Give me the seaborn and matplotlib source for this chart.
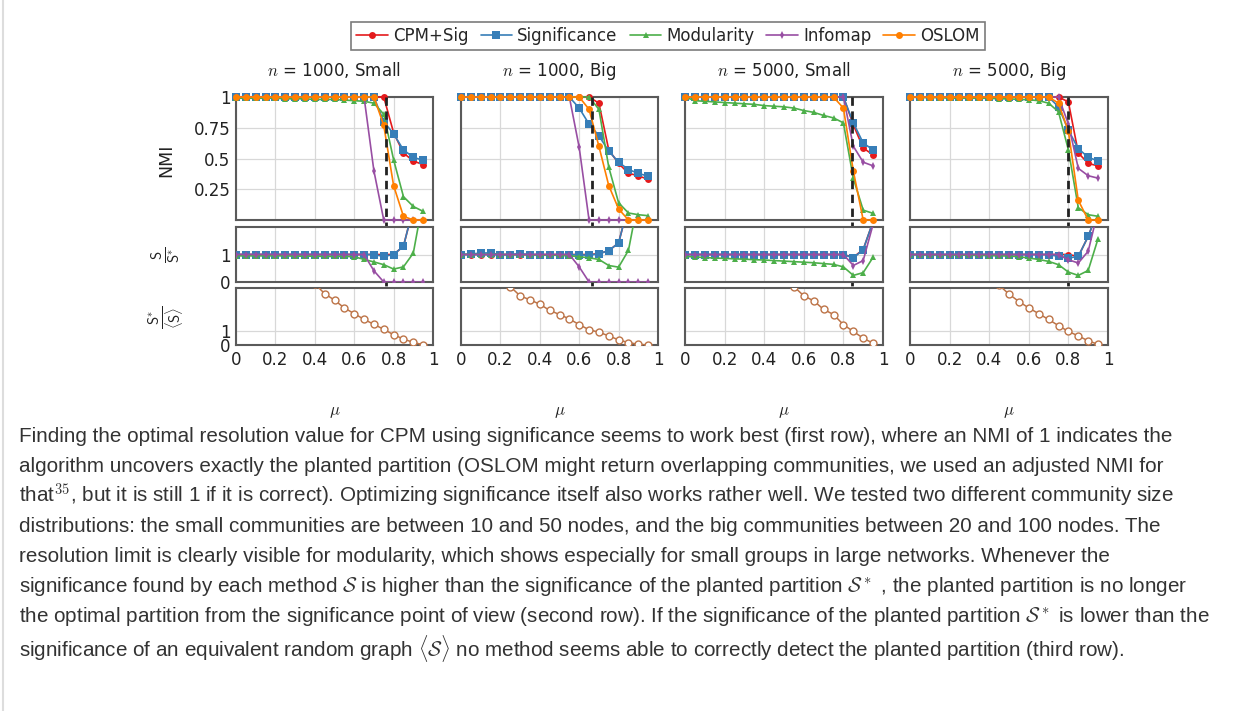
import numpy as np
import pandas as pd
import matplotlib
matplotlib.use("Agg")
import matplotlib.pyplot as plt
import matplotlib.transforms as mtransforms
import seaborn as sns

# ---------------- data ----------------
mu = [0.0, 0.05, 0.1, 0.15, 0.2, 0.25, 0.3, 0.35, 0.4, 0.45,
      0.5, 0.55, 0.6, 0.65, 0.7, 0.75, 0.8, 0.85, 0.9, 0.95]

titles = ["n = 1000, Small", "n = 1000, Big", "n = 5000, Small", "n = 5000, Big"]
methods = ["CPM+Sig", "Significance", "Modularity", "Infomap", "OSLOM"]
thresholds = [0.76, 0.665, 0.842, 0.80]

x_ticks = [0, 0.2, 0.4, 0.6, 0.8, 1]
x_tick_labels = ["0", "0.2", "0.4", "0.6", "0.8", "1"]
nmi_ticks = [0.25, 0.5, 0.75, 1]
nmi_tick_labels = ["0.25", "0.5", "0.75", "1"]

# NMI (first row)
cpm_nmi_1 = [1]*16 + [0.71, 0.545, 0.48, 0.45]
sig_nmi_1 = [1]*15 + [0.80, 0.70, 0.57, 0.51, 0.485]
mod_nmi_1 = [0.99, 0.99, 0.99, 0.99, 0.99, 0.985, 0.985, 0.985, 0.98, 0.98,
             0.98, 0.975, 0.97, 0.965, 0.95, 0.86, 0.49, 0.19, 0.11, 0.07]
info_nmi_1 = [1]*14 + [0.40, 0, 0, 0, 0, 0]
oslom_nmi_1 = [1]*15 + [0.77, 0.28, 0.03, 0, 0]

cpm_nmi_2 = [1]*14 + [0.95, 0.57, 0.46, 0.38, 0.36, 0.33]
sig_nmi_2 = [1]*12 + [0.91, 0.78, 0.685, 0.56, 0.47, 0.41, 0.38, 0.355]
mod_nmi_2 = [1]*14 + [0.90, 0.43, 0.14, 0.057, 0.043, 0.035]
info_nmi_2 = [1]*12 + [0.59, 0, 0, 0, 0, 0, 0, 0]
oslom_nmi_2 = [1]*13 + [0.90, 0.60, 0.28, 0.09, 0, 0, 0]

cpm_nmi_3 = [1]*17 + [0.775, 0.585, 0.53]
sig_nmi_3 = [1]*17 + [0.79, 0.626, 0.57]
mod_nmi_3 = [1.0, 0.97, 0.965, 0.96, 0.955, 0.95, 0.945, 0.94, 0.93, 0.925,
             0.92, 0.91, 0.89, 0.875, 0.85, 0.83, 0.79, 0.34, 0.08, 0.054]
info_nmi_3 = [1]*17 + [0.60, 0.47, 0.44]
oslom_nmi_3 = [1]*16 + [0.91, 0.40, 0.0, 0.0]

cpm_nmi_4 = [1]*16 + [0.96, 0.545, 0.46, 0.44]
sig_nmi_4 = [1]*15 + [0.92, 0.73, 0.58, 0.51, 0.48]
mod_nmi_4 = [1.0, 0.995, 0.995, 0.995, 0.99, 0.99, 0.99, 0.99, 0.99, 0.985,
             0.985, 0.98, 0.978, 0.97, 0.95, 0.88, 0.57, 0.10, 0.043, 0.03]
info_nmi_4 = [1]*16 + [0.78, 0.42, 0.36, 0.34]
oslom_nmi_4 = [1]*15 + [0.95, 0.72, 0.16, 0, 0]

# S / S* (second row)
cpm_s_1 = [1]*16 + [1.0, 1.3, 2.7, 3.2]
sig_s_1 = [1]*15 + [0.93, 1.0, 1.3, 2.7, 3.2]
mod_s_1 = [0.95, 0.95, 0.95, 0.95, 0.95, 0.95, 0.94, 0.94, 0.94, 0.93,
           0.93, 0.93, 0.92, 0.82, 0.73, 0.63, 0.47, 0.55, 1.05, 3.0]
info_s_1 = [1]*14 + [0.41, 0, 0, 0, 0, 0]

cpm_s_2 = [1]*14 + [1.03, 1.14, 1.42, 2.8, 3.2, 3.5]
sig_s_2 = [1.0, 1.02, 1.05, 1.06, 0.99, 1.0, 1.03, 0.99, 1.0, 0.98,
           0.98, 0.99, 0.99, 0.97, 1.03, 1.14, 1.42, 2.8, 3.2, 3.5]
mod_s_2 = [1.0, 1.0, 1.0, 1.0, 1.0, 0.99, 0.99, 0.99, 0.98, 0.98,
           0.97, 0.95, 0.92, 0.88, 0.82, 0.60, 0.54, 1.15, 3.0, 3.5]
info_s_2 = [1]*12 + [0.55, 0, 0, 0, 0, 0, 0, 0]

cpm_s_3 = [1]*17 + [0.90, 1.18, 2.2]
sig_s_3 = [1]*17 + [0.87, 1.18, 2.2]
mod_s_3 = [0.93, 0.91, 0.89, 0.87, 0.86, 0.84, 0.83, 0.81, 0.80, 0.78,
           0.76, 0.74, 0.72, 0.70, 0.67, 0.64, 0.55, 0.24, 0.34, 0.90]
info_s_3 = [1]*17 + [0.60, 0.78, 2.1]

cpm_s_4 = [1]*17 + [0.93, 1.66, 2.6]
sig_s_4 = [1]*15 + [0.93, 0.87, 0.93, 1.66, 2.6]
mod_s_4 = [1.0, 0.99, 0.99, 0.99, 0.98, 0.98, 0.97, 0.97, 0.96, 0.95,
           0.945, 0.92, 0.87, 0.82, 0.75, 0.63, 0.36, 0.24, 0.42, 1.58]
info_s_4 = [1]*16 + [0.81, 0.69, 1.12, 2.6]

# S* / <S> (third row)
ratio_1 = [9.0, 8.5, 8.0, 7.5, 7.0, 6.4, 5.8, 5.1, 4.3, 3.6,
           3.15, 2.6, 2.2, 1.8, 1.45, 1.1, 0.72, 0.42, 0.18, 0.02]
ratio_2 = [7.2, 6.6, 6.0, 5.4, 4.8, 4.1, 3.45, 3.17, 2.86, 2.43,
           2.14, 1.83, 1.43, 1.07, 0.9, 0.64, 0.36, 0.17, 0.05, 0.0]
ratio_3 = [11.0, 10.4, 9.8, 9.2, 8.6, 8.0, 7.4, 6.8, 6.1, 5.4,
           4.8, 4.1, 3.45, 3.1, 2.5, 2.14, 1.43, 0.95, 0.48, 0.12]
ratio_4 = [9.5, 9.0, 8.4, 7.8, 7.2, 6.6, 6.0, 5.4, 4.8, 4.2,
           3.57, 3.05, 2.6, 2.2, 1.79, 1.36, 0.95, 0.64, 0.29, 0.05]

nmi_cols = [
    [cpm_nmi_1, sig_nmi_1, mod_nmi_1, info_nmi_1, oslom_nmi_1],
    [cpm_nmi_2, sig_nmi_2, mod_nmi_2, info_nmi_2, oslom_nmi_2],
    [cpm_nmi_3, sig_nmi_3, mod_nmi_3, info_nmi_3, oslom_nmi_3],
    [cpm_nmi_4, sig_nmi_4, mod_nmi_4, info_nmi_4, oslom_nmi_4],
]
s_cols = [
    [cpm_s_1, sig_s_1, mod_s_1, info_s_1],
    [cpm_s_2, sig_s_2, mod_s_2, info_s_2],
    [cpm_s_3, sig_s_3, mod_s_3, info_s_3],
    [cpm_s_4, sig_s_4, mod_s_4, info_s_4],
]
ratio_cols = [ratio_1, ratio_2, ratio_3, ratio_4]

caption_lines = [
    "Finding the optimal resolution value for CPM using significance seems to work best (first row), where an NMI of 1 indicates the",
    "algorithm uncovers exactly the planted partition (OSLOM might return overlapping communities, we used an adjusted NMI for",
    r"that$^{35}$, but it is still 1 if it is correct). Optimizing significance itself also works rather well. We tested two different community size",
    "distributions: the small communities are between 10 and 50 nodes, and the big communities between 20 and 100 nodes. The",
    "resolution limit is clearly visible for modularity, which shows especially for small groups in large networks. Whenever the",
    r"significance found by each method $\mathcal{S}$ is higher than the significance of the planted partition $\mathcal{S}^*$ , the planted partition is no longer",
    r"the optimal partition from the significance point of view (second row). If the significance of the planted partition $\mathcal{S}^*$ is lower than the",
    r"significance of an equivalent random graph $\langle\mathcal{S}\rangle$ no method seems able to correctly detect the planted partition (third row).",
]

# ---------------- style ----------------
sns.set_theme(style="white")
plt.rcParams["font.family"] = ["DejaVu Sans"]
plt.rcParams["mathtext.fontset"] = "cm"

colors = {"CPM+Sig": "#e41a1c", "Significance": "#377eb8", "Modularity": "#4daf4a",
          "Infomap": "#984ea3", "OSLOM": "#ff7f00"}
markers = {"CPM+Sig": "o", "Significance": "s", "Modularity": "^",
           "Infomap": "d", "OSLOM": "o"}
msizes = {"CPM+Sig": 5, "Significance": 5.5, "Modularity": 4,
          "Infomap": 4, "OSLOM": 5}
ratio_color = "#bd7448"
spine_color = "#5a5a5a"
grid_color = "#d8d8d8"

W, H = 1252, 711
fig = plt.figure(figsize=(W / 100, H / 100), dpi=100)
fig.patch.set_facecolor("white")


def rect(x0, x1, y0, y1):
    return [x0 / W, 1 - y1 / H, (x1 - x0) / W, (y1 - y0) / H]


col_x = [(236, 433), (461, 658), (685, 883), (910, 1108)]
row_y = [(97, 220), (227, 282), (288, 345)]


def style_ax(ax, ylim, yticks, first_col, bottom_row, yticklabels=None):
    ax.set_xlim(0, 1)
    ax.set_ylim(*ylim)
    ax.set_xticks(x_ticks)
    ax.set_yticks(yticks)
    if bottom_row:
        ax.set_xticklabels(x_tick_labels)
    else:
        ax.set_xticklabels([])
    if first_col:
        ax.set_yticklabels(yticklabels if yticklabels else [str(t) for t in yticks])
    else:
        ax.set_yticklabels([])
    ax.tick_params(length=0, pad=4, labelsize=12, colors="#222222")
    ax.grid(True, color=grid_color, lw=0.9)
    ax.set_axisbelow(True)
    for s in ax.spines.values():
        s.set_color(spine_color)
        s.set_linewidth(1.5)
    ax.set_xlabel("")
    ax.set_ylabel("")


legend_handles = None
for c in range(4):
    x0, x1 = col_x[c]
    ax1 = fig.add_axes(rect(x0, x1, *row_y[0]))
    ax2 = fig.add_axes(rect(x0, x1, *row_y[1]))
    ax3 = fig.add_axes(rect(x0, x1, *row_y[2]))

    for name, vals in zip(methods, nmi_cols[c]):
        sns.lineplot(x=mu, y=vals, ax=ax1, color=colors[name], marker=markers[name],
                     markersize=msizes[name], markeredgewidth=0, linewidth=1.2,
                     label=name, clip_on=False, zorder=3)
    if c == 0:
        legend_handles = ax1.get_legend_handles_labels()
    if ax1.get_legend() is not None:
        ax1.get_legend().remove()

    for name, vals in zip(methods[:4], s_cols[c]):
        sns.lineplot(x=mu, y=vals, ax=ax2, color=colors[name], marker=markers[name],
                     markersize=msizes[name], markeredgewidth=0, linewidth=1.2,
                     legend=False, zorder=3)
    for ln in ax2.lines:
        ln.set_clip_on(True)

    sns.lineplot(x=mu, y=ratio_cols[c], ax=ax3, color=ratio_color, marker="o",
                 markersize=5, markerfacecolor="white", markeredgecolor=ratio_color,
                 markeredgewidth=1.0, linewidth=1.1, legend=False, zorder=3)

    style_ax(ax1, (0, 1), nmi_ticks, c == 0, False, nmi_tick_labels)
    style_ax(ax2, (0, 2), [0, 1], c == 0, False, ["0", "1"])
    style_ax(ax3, (0, 4), [0, 1], c == 0, True, ["0", "1"])

    n_txt, size_txt = titles[c].split(", ")
    ax1.set_title(r"$n$" + n_txt[1:] + ", " + size_txt, fontsize=12, pad=15, color="#222222")
    ax3.set_xlabel(r"$\mu$", fontsize=12, labelpad=24, color="#222222")

    # dashed threshold line across the three panels
    tr = mtransforms.blended_transform_factory(ax1.transData, fig.transFigure)
    ax1.plot([thresholds[c], thresholds[c]], [1 - row_y[0][0] / H, 1 - row_y[2][1] / H],
             transform=tr, color="#222222", lw=2.0, ls=(0, (3, 2)), clip_on=False, zorder=6)

# y labels
fig.text(166 / W, 1 - 160 / H, "NMI", rotation=90, ha="center", va="center",
         fontsize=12.5, color="#222222")
fig.text(166 / W, 1 - 255 / H, r"$\frac{\mathsf{S}}{\mathsf{S}^{*}}$", rotation=90,
         ha="center", va="center", fontsize=15, color="#222222")
fig.text(166 / W, 1 - 317 / H, r"$\frac{\mathsf{S}^{*}}{\langle\mathsf{S}\rangle}$", rotation=90,
         ha="center", va="center", fontsize=15, color="#222222")

# legend
handles, labels = legend_handles
leg = fig.legend(handles, labels, loc="upper center", bbox_to_anchor=(668 / W, 1 - 22 / H),
                 ncol=5, frameon=True, fontsize=12, handlelength=1.9, handletextpad=0.3,
                 columnspacing=0.72, borderpad=0.3, borderaxespad=0, fancybox=False)
leg.get_frame().set_edgecolor(spine_color)
leg.get_frame().set_linewidth(1.2)

# caption
cap_y = [436, 466, 496, 527, 557, 587, 617, 648]
for line, y in zip(caption_lines, cap_y):
    fig.text(19 / W, 1 - y / H, line, ha="left", va="center", fontsize=14.9,
             family=["Liberation Sans", "DejaVu Sans"], color="#333333")

# page border
fig.add_artist(plt.Line2D([2.5 / W, 2.5 / W], [0, 1], transform=fig.transFigure,
                          color="#dddddd", lw=1.5))

fig.savefig("out.png", dpi=100, facecolor="white")
